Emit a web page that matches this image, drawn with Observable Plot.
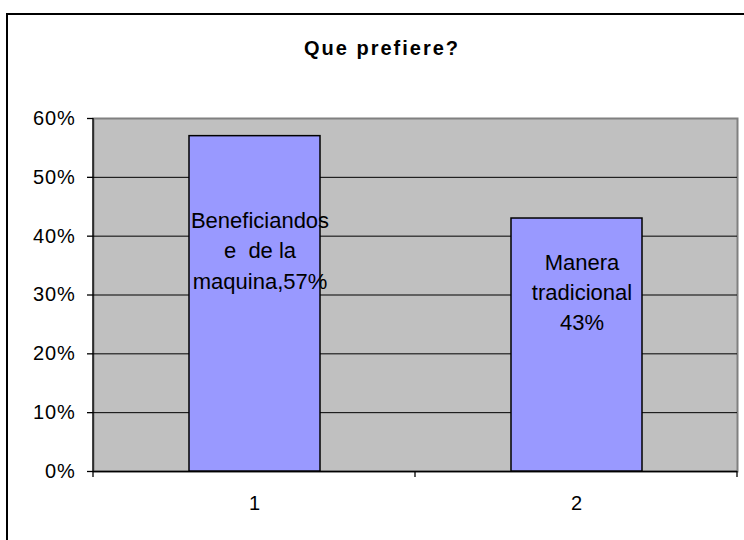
<!DOCTYPE html>
<html>
<head>
<meta charset="utf-8">
<script src="https://cdn.jsdelivr.net/npm/d3@7"></script>
<script src="https://cdn.jsdelivr.net/npm/@observablehq/plot@0.6"></script>
<style>
  html, body { margin: 0; padding: 0; background: #fff; }
  body { width: 744px; height: 540px; overflow: hidden; position: relative; font-family: "Liberation Sans", Arial, sans-serif; }
  #frame { position: absolute; left: 6px; top: 13px; width: 780px; height: 600px; border: 2px solid #000; box-sizing: border-box; }
  #title { position: absolute; left: 0; top: 36px; width: 764px; text-align: center; font-weight: bold; font-size: 20px; line-height: 24px; letter-spacing: 2px; color: #000; }
  #chart { position: absolute; left: 0; top: 80px; }
  #chart text { white-space: pre; }
  #chart g[aria-label="y-axis tick label"] text, #chart g[aria-label="x-axis tick label"] text { letter-spacing: 0.8px; }
</style>
</head>
<body>
<div id="frame"></div>
<div id="title">Que prefiere?</div>
<div id="chart"></div>
<script>
// Data
const categories = ["1", "2"];
const values = [0.57, 0.43];
const barLabels = ["Beneficiandos\ne  de la\nmaquina,57%", "Manera\ntradicional\n43%"];
const yTicks = [0, 0.1, 0.2, 0.3, 0.4, 0.5, 0.6];
const gridValues = [0.1, 0.2, 0.3, 0.4, 0.5];

const data = categories.map((c, i) => ({cat: c, value: values[i], label: barLabels[i]}));

// custom mark: black left axis line and category boundary ticks
function edges(index, scales, values, dims) {
  const {marginLeft: l, marginRight: r, marginTop: t, marginBottom: b, width: w, height: h} = dims;
  const x0 = l, x1 = w - r, y0 = t, y1 = h - b;
  const g = d3.create("svg:g").attr("stroke", "#000").attr("stroke-width", 1.3);
  g.append("line").attr("x1", x0).attr("x2", x0).attr("y1", y0).attr("y2", y1);
  const n = categories.length;
  for (let i = 0; i <= n; i++) {
    const x = x0 + i * (x1 - x0) / n;
    g.append("line").attr("x1", x).attr("x2", x).attr("y1", y1).attr("y2", y1 + 6);
  }
  return g.node();
}

const plot = Plot.plot({
  width: 744,
  height: 460,
  marginLeft: 93,
  marginRight: 7,
  marginTop: 38,
  marginBottom: 69,
  style: {fontFamily: "'Liberation Sans', Arial, sans-serif", fontSize: "20px", color: "#000", background: "transparent", overflow: "visible"},
  x: {type: "band", domain: categories, paddingInner: 0.594, paddingOuter: 0.297, label: null},
  y: {domain: [0, 0.6], label: null},
  marks: [
    Plot.frame({fill: "#C0C0C0", stroke: "#808080", strokeWidth: 2}),
    Plot.ruleY(gridValues, {stroke: "#000", strokeWidth: 1}),
    Plot.ruleY([0], {stroke: "#000", strokeWidth: 1.3}),
    Plot.barY(data, {x: "cat", y: "value", fill: "#9999FF", stroke: "#000", strokeWidth: 1.5}),
    Plot.text(data, {x: "cat", y: d => d.value / 2, text: "label", dy: -55, dx: 5, fontSize: 22, lineHeight: 1.37, fill: "#000"}),
    Plot.axisY({ticks: yTicks, tickFormat: d3.format(".0%"), tickSize: 6, tickPadding: 12, stroke: "#000", strokeWidth: 1.3, fontSize: 20}),
    Plot.axisX({tickSize: 0, tickPadding: 24, fontSize: 20}),
    edges
  ]
});
document.getElementById("chart").appendChild(plot);
</script>
</body>
</html>
